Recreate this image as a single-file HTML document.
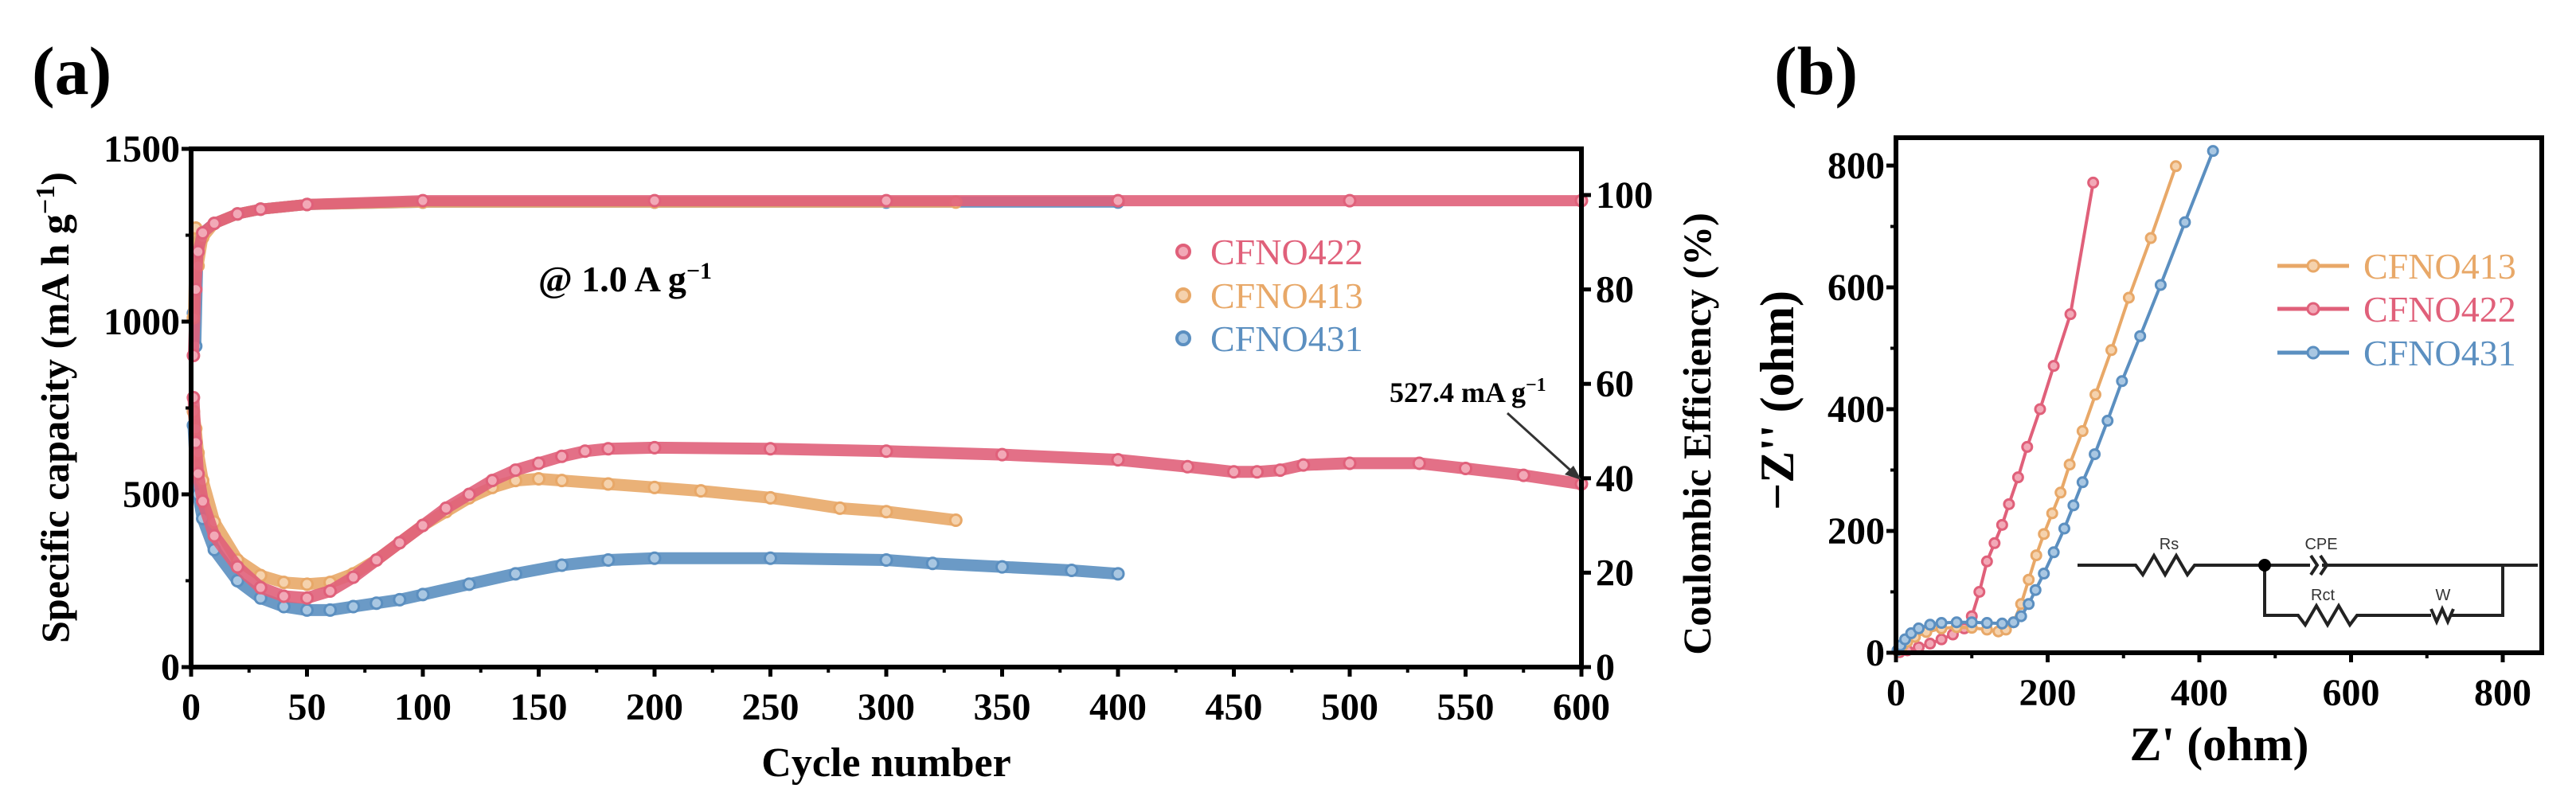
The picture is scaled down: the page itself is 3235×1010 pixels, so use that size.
<!DOCTYPE html>
<html><head><meta charset="utf-8">
<style>
html,body{margin:0;padding:0;background:#fff;}
svg{display:block;font-family:"Liberation Serif",serif;}
</style></head>
<body>
<svg id="fig" width="3235" height="1010" viewBox="0 0 3235 1010" xmlns="http://www.w3.org/2000/svg">
<g id="pa"></g>
<g id="pb"></g>
</svg>
<script>
// ---------- Panel (a) data ----------
const capCycles422 = [1,2,3,5,10,20,30,40,50,60,70,80,90,100,110,120,130,140,150,160,170,180,200,250,300,350,400,430,450,460,470,480,500,530,550,575,600];
const capValues422 = [780,650,560,480,380,290,230,205,200,220,260,310,360,410,460,500,540,570,590,610,625,632,635,632,625,615,600,580,565,565,570,585,590,590,575,555,530];
const capCycles413 = [1,2,3,5,10,20,30,40,50,60,70,80,90,100,110,120,130,140,150,160,180,200,220,250,280,300,330];
const capValues413 = [740,690,620,540,420,310,265,245,240,245,270,310,360,410,450,490,520,540,545,540,530,520,510,490,460,450,425];
const capCycles431 = [1,2,3,5,10,20,30,40,50,60,70,80,90,100,120,140,160,180,200,250,300,320,350,380,400];
const capValues431 = [700,580,500,430,340,250,200,175,165,165,175,185,195,210,240,270,295,310,315,315,310,300,290,280,270];
const ceCycles422 = [1,2,3,5,10,20,30,50,100,200,300,400,500,600];
const ceValues422 = [66,80,88,92,94,96,97,98,98.8,98.8,98.8,98.8,98.8,98.8];
const ceCycles413 = [1,2,3,5,10,20,30,50,100,200,330];
const ceValues413 = [74,93,85,91,94,96,97,98,98.5,98.5,98.5];
const ceCycles431 = [1,2,3,5,10,20,30,50,100,200,300,400];
const ceValues431 = [75,68,90,92,94,96,97,98,98.5,98.5,98.5,98.5];
const xTicksA = [0,50,100,150,200,250,300,350,400,450,500,550,600];
const yTicksA = [0,500,1000,1500];
const y2TicksA = [0,20,40,60,80,100];

// ---------- Panel (b) data ----------
const eisX413 = [2,8,15,25,40,60,80,100,120,135,145,155,165,175,185,195,206,217,229,246,263,284,307,336,369];
const eisY413 = [3,10,18,26,34,40,42,41,38,35,38,50,80,120,160,195,229,263,309,364,424,497,583,681,799];
const eisX422 = [5,15,30,45,60,75,90,100,110,120,130,140,149,161,173,190,208,230,260];
const eisY422 = [1,4,9,15,22,30,40,60,100,150,180,210,244,288,338,400,471,556,772];
const eisX431 = [2,6,12,20,30,45,60,80,100,120,140,155,165,175,184,195,208,222,234,246,262,279,298,322,349,381,418];
const eisY431 = [4,12,22,32,40,46,49,50,50,49,48,50,60,80,103,130,165,204,242,280,326,381,446,520,604,707,824];
const xTicksB = [0,200,400,600,800];
const yTicksB = [0,200,400,600,800];

const NS="http://www.w3.org/2000/svg";
function mk(parent,tag,attrs,text){const e=document.createElementNS(NS,tag);for(const k in attrs)e.setAttribute(k,attrs[k]);if(text!==undefined)e.textContent=text;parent.appendChild(e);return e;}
const RED="#e0607a",ORG="#e8a868",BLU="#5b8fc0";
const REDL="#f2a9b7",ORGL="#f5d2ad",BLUL="#a9c7e2";

// axis functions panel a
const ax0=240,ax1=1986,ay0=838,ay1=187;
const xA=c=>ax0+(c/600)*(ax1-ax0);
const yA=v=>ay0-(v/1500)*(ay0-ay1);
const y2A=v=>ay0-(v/100)*(ay0-245);

const pa=document.getElementById('pa');
function series(parent,xs,ys,fx,fy,col,light,name,w){
  let d='';xs.forEach((x,i)=>{d+=(i?'L':'M')+fx(x).toFixed(1)+' '+fy(ys[i]).toFixed(1);});
  const p=mk(parent,'path',{d:d,fill:'none',stroke:col,'stroke-width':w,'stroke-linejoin':'round','stroke-linecap':'round',opacity:0.9});
  
  
  xs.forEach((x,i)=>{
    const c=mk(parent,'circle',{cx:fx(x),cy:fy(ys[i]),r:7,fill:light,stroke:col,'stroke-width':3});
    
    
  });
}
// labels
const la=mk(pa,'text',{x:40,y:118,'font-size':86,'font-weight':'bold'},'(a)');


// series
series(pa,capCycles431,capValues431,xA,yA,BLU,BLUL,'cfno431-capacity',15);
series(pa,capCycles413,capValues413,xA,yA,ORG,ORGL,'cfno413-capacity',15);
series(pa,capCycles422,capValues422,xA,yA,RED,REDL,'cfno422-capacity',15);
series(pa,ceCycles431,ceValues431,xA,y2A,BLU,BLUL,'cfno431-ce',14);
series(pa,ceCycles413,ceValues413,xA,y2A,ORG,ORGL,'cfno413-ce',14);
series(pa,ceCycles422,ceValues422,xA,y2A,RED,REDL,'cfno422-ce',14);

// frame
const fa=mk(pa,'rect',{x:ax0,y:ay1,width:ax1-ax0,height:ay0-ay1,fill:'none',stroke:'#000','stroke-width':6});

xTicksA.forEach((t,i)=>{
  mk(pa,'line',{x1:xA(t),y1:ay0,x2:xA(t),y2:ay0+12,stroke:'#000','stroke-width':5});
  if(i<xTicksA.length-1) mk(pa,'line',{x1:xA(t+25),y1:ay0,x2:xA(t+25),y2:ay0+7,stroke:'#000','stroke-width':4});
  const tx=mk(pa,'text',{x:xA(t),y:ay0+66,'font-size':48,'font-weight':'bold','text-anchor':'middle'},String(t));
  
});
yTicksA.forEach((t,i)=>{
  mk(pa,'line',{x1:ax0,y1:yA(t),x2:ax0-12,y2:yA(t),stroke:'#000','stroke-width':5});
  if(i<yTicksA.length-1) mk(pa,'line',{x1:ax0,y1:yA(t+250),x2:ax0-7,y2:yA(t+250),stroke:'#000','stroke-width':4});
  const tx=mk(pa,'text',{x:ax0-14,y:yA(t)+16,'font-size':48,'font-weight':'bold','text-anchor':'end'},String(t));
  
});
y2TicksA.forEach((t,i)=>{
  mk(pa,'line',{x1:ax1,y1:y2A(t),x2:ax1+12,y2:y2A(t),stroke:'#000','stroke-width':5});
  const tx=mk(pa,'text',{x:ax1+18,y:y2A(t)+16,'font-size':48,'font-weight':'bold'},String(t));
  
});
let t;
t=mk(pa,'text',{x:(ax0+ax1)/2,y:975,'font-size':52,'font-weight':'bold','text-anchor':'middle'},'Cycle number');

t=mk(pa,'text',{x:0,y:0,'font-size':50,'font-weight':'bold','text-anchor':'middle',transform:'translate(86,512) rotate(-90)'});
t.innerHTML='Specific capacity (mA h g<tspan dy="-18" font-size="34">−1</tspan><tspan dy="18">)</tspan>';

t=mk(pa,'text',{x:0,y:0,'font-size':50,'font-weight':'bold','text-anchor':'middle',transform:'translate(2148,545) rotate(-90)'},'Coulombic Efficiency (%)');

t=mk(pa,'text',{x:676,y:366,'font-size':46,'font-weight':'bold'});
t.innerHTML='@ 1.0 A g<tspan dy="-16" font-size="30">−1</tspan>';

// legend a
[['CFNO422',RED,REDL,316],['CFNO413',ORG,ORGL,371],['CFNO431',BLU,BLUL,425]].forEach(l=>{
  const g=mk(pa,'g',{});
  
  
  mk(g,'circle',{cx:1486,cy:l[3],r:8,fill:l[2],stroke:l[1],'stroke-width':4});
  mk(g,'text',{x:1520,y:l[3]+16,'font-size':46,fill:l[1]},l[0]);
});
// annotation
t=mk(pa,'text',{x:1745,y:505,'font-size':36,'font-weight':'bold'});
t.innerHTML='527.4 mA g<tspan dy="-14" font-size="24">−1</tspan>';

t=mk(pa,'line',{x1:1893,y1:519,x2:1978,y2:596,stroke:'#333','stroke-width':3});

mk(pa,'polygon',{points:'1986,603 1965,596 1976,585',fill:'#333'});

// ---------- Panel (b) ----------
const bx0=2381,bx1=3192,by0=820,by1=173;
const xB=v=>bx0+v/800*(3143-bx0);
const yB=v=>by0-v/800*(by0-208);
const pb=document.getElementById('pb');
t=mk(pb,'text',{x:2228,y:118,'font-size':86,'font-weight':'bold'},'(b)');

function eis(xs,ys,col,light,name){
  let d='';xs.forEach((x,i)=>{d+=(i?'L':'M')+xB(x).toFixed(1)+' '+yB(ys[i]).toFixed(1);});
  const p=mk(pb,'path',{d:d,fill:'none',stroke:col,'stroke-width':4});
  
  xs.forEach((x,i)=>{
    const c=mk(pb,'circle',{cx:xB(x),cy:yB(ys[i]),r:6,fill:light,stroke:col,'stroke-width':3});
    
    
  });
}
eis(eisX422,eisY422,RED,REDL,'cfno422-eis');
eis(eisX413,eisY413,ORG,ORGL,'cfno413-eis');
eis(eisX431,eisY431,BLU,BLUL,'cfno431-eis');
t=mk(pb,'rect',{x:bx0,y:by1,width:bx1-bx0,height:by0-by1,fill:'none',stroke:'#000','stroke-width':6});

xTicksB.forEach((v,i)=>{
  mk(pb,'line',{x1:xB(v),y1:by0,x2:xB(v),y2:by0+12,stroke:'#000','stroke-width':5});
  mk(pb,'line',{x1:xB(v+100),y1:by0,x2:xB(v+100),y2:by0+7,stroke:'#000','stroke-width':4});
  const tx=mk(pb,'text',{x:xB(v),y:by0+66,'font-size':48,'font-weight':'bold','text-anchor':'middle'},String(v));
  
});
yTicksB.forEach((v,i)=>{
  mk(pb,'line',{x1:bx0,y1:yB(v),x2:bx0-12,y2:yB(v),stroke:'#000','stroke-width':5});
  if(i<yTicksB.length-1) mk(pb,'line',{x1:bx0,y1:yB(v+100),x2:bx0-7,y2:yB(v+100),stroke:'#000','stroke-width':4});
  const tx=mk(pb,'text',{x:bx0-14,y:yB(v)+16,'font-size':48,'font-weight':'bold','text-anchor':'end'},String(v));
  
});
t=mk(pb,'text',{x:2787,y:955,'font-size':60,'font-weight':'bold','text-anchor':'middle'},"Z' (ohm)");

t=mk(pb,'text',{x:0,y:0,'font-size':60,'font-weight':'bold','text-anchor':'middle',transform:'translate(2252,503) rotate(-90)'},"−Z'' (ohm)");

[['CFNO413',ORG,ORGL,334],['CFNO422',RED,REDL,388],['CFNO431',BLU,BLUL,443]].forEach(l=>{
  const g=mk(pb,'g',{});
  
  
  mk(g,'line',{x1:2860,y1:l[3],x2:2950,y2:l[3],stroke:l[1],'stroke-width':5});
  mk(g,'circle',{cx:2905,cy:l[3],r:7,fill:l[2],stroke:l[1],'stroke-width':3});
  mk(g,'text',{x:2968,y:l[3]+16,'font-size':46,fill:l[1]},l[0]);
});
// circuit
const cg=mk(pb,'g',{stroke:'#222','stroke-width':4,fill:'none'});

mk(cg,'path',{d:'M2609 710 L2682 710 l9 12 l14 -24 l14 24 l14 -24 l14 24 l9 -12 L2901 710 M2916 710 L3187 710 M3143 710 L3143 773 L3090 773 M3053 773 L2960 773 l-9 12 l-14 -24 l-14 24 l-14 -24 l-14 24 l-9 -12 L2844 773 L2844 710'});
mk(cg,'path',{d:'M2902 698 l8 12 l-8 12 M2914 698 l8 12 l-8 12'});
mk(cg,'path',{d:'M3053 765 l7 16 l7 -16 l7 16 l7 -16 M3078 773 L3090 773'});
mk(pb,'circle',{cx:2844,cy:710,r:8,fill:'#000'});
[['Rs',2724,690],['CPE',2915,690],['Rct',2917,754],['W',3068,754]].forEach(l=>{
  const tx=mk(pb,'text',{x:l[1],y:l[2],'font-size':20,'font-family':'Liberation Sans, sans-serif','text-anchor':'middle',fill:'#333'},l[0]);
  
  
});
</script>
</body></html>
